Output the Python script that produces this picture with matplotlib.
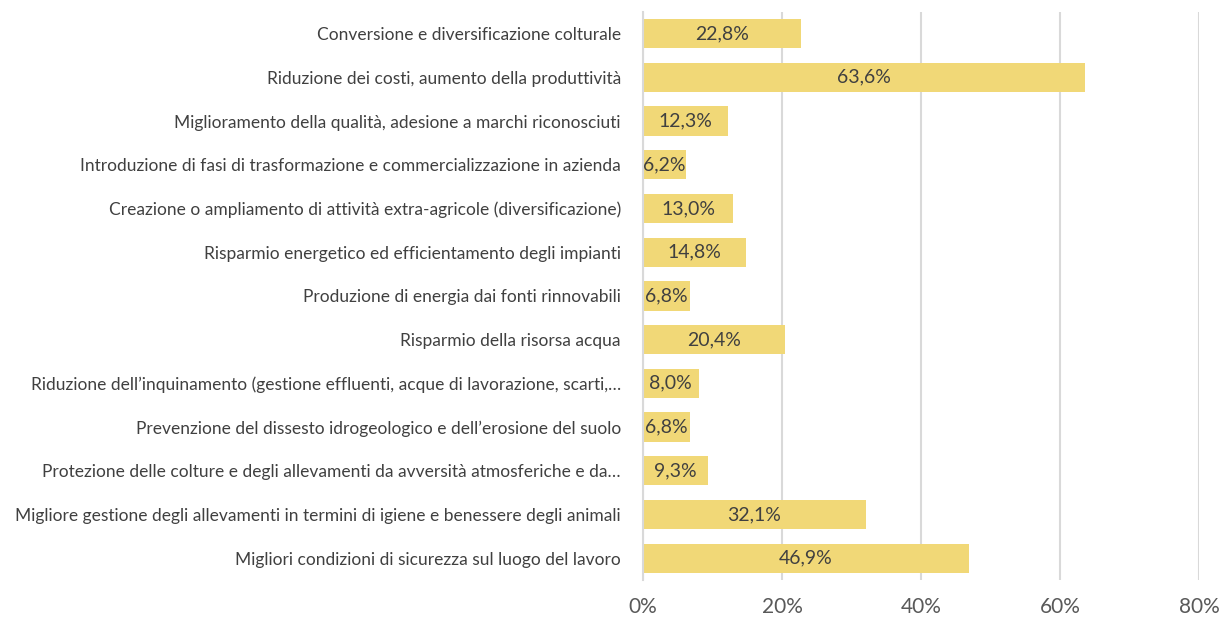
import matplotlib
matplotlib.use("Agg")
import matplotlib.pyplot as plt
from matplotlib import font_manager

categories = [
    "Conversione e diversificazione colturale",
    "Riduzione dei costi, aumento della produttività",
    "Miglioramento della qualità, adesione a marchi riconosciuti",
    "Introduzione di fasi di trasformazione e commercializzazione in azienda",
    "Creazione o ampliamento di attività extra-agricole (diversificazione)",
    "Risparmio energetico ed efficientamento degli impianti",
    "Produzione di energia dai fonti rinnovabili",
    "Risparmio della risorsa acqua",
    "Riduzione dell’inquinamento (gestione effluenti, acque di lavorazione, scarti,…",
    "Prevenzione del dissesto idrogeologico e dell’erosione del suolo",
    "Protezione delle colture e degli allevamenti da avversità atmosferiche e da…",
    "Migliore gestione degli allevamenti in termini di igiene e benessere degli animali",
    "Migliori condizioni di sicurezza sul luogo del lavoro",
]
values = [22.8, 63.6, 12.3, 6.2, 13.0, 14.8, 6.8, 20.4, 8.0, 6.8, 9.3, 32.1, 46.9]
xticks = [0, 20, 40, 60, 80]

# pick a narrow family if one is around
installed = {f.name for f in font_manager.fontManager.ttflist}
narrow = "DejaVu Sans"
for name in ["Liberation Sans Narrow", "DejaVu Sans Condensed", "Lato"]:
    if name in installed:
        narrow = name
        break
plt.rcParams["font.family"] = [narrow, "DejaVu Sans"]

bar_color = "#F1D877"
grid_color = "#D9D9D9"

fig = plt.figure(figsize=(12.21, 6.21), dpi=100)
ax = fig.add_axes([0.5266, 0.066, 0.4554, 0.915])

pos = list(range(len(categories)))
ax.barh(pos, values, height=0.67, color=bar_color, zorder=2)
for y, v in zip(pos, values):
    ax.text(v / 2, y, f"{v:.1f}%".replace(".", ","), ha="center", va="center",
            fontsize=14, color="#404040", zorder=3)

ax.set_xlim(0, 80)
ax.set_ylim(len(categories) - 0.5, -0.5)
ax.set_xticks(xticks)
ax.set_xticklabels([f"{t}%" for t in xticks], fontsize=15, color="#595959")
ax.set_yticks(pos)
ax.set_yticklabels(categories, fontsize=12.5, color="#404040")
ax.tick_params(length=0)
ax.tick_params(axis="x", pad=12)
ax.tick_params(axis="y", pad=16)

ax.xaxis.grid(True, color=grid_color, linewidth=1.5, zorder=0)
for s in ["top", "right", "bottom"]:
    ax.spines[s].set_visible(False)
ax.spines["left"].set_color(grid_color)
ax.spines["left"].set_linewidth(1.5)

fig.savefig("out.png", dpi=100)
